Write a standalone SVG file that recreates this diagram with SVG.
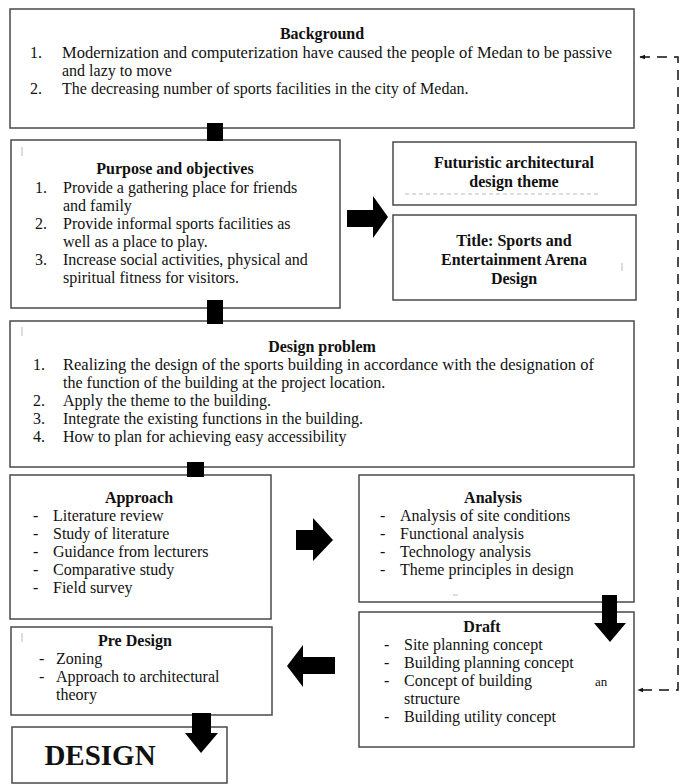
<svg xmlns="http://www.w3.org/2000/svg" width="700" height="784" viewBox="0 0 700 784">
<style>
.box{fill:#fff;stroke:#4a4a4a;stroke-width:1.5}
.t{font-family:"Liberation Serif","Times New Roman",serif;font-size:16px;fill:#111}
.b{font-weight:bold;text-anchor:middle}
.arr{fill:#000}
.dash{fill:none;stroke:#111;stroke-width:1.5;stroke-dasharray:10 7}
.faint{stroke:#bbb;stroke-width:1;fill:none}
</style>
<defs>
<marker id="ah" viewBox="0 0 10 10" refX="9" refY="5" markerWidth="6" markerHeight="6" orient="auto-start-reverse" markerUnits="userSpaceOnUse">
<path d="M0,1 L10,5 L0,9 Z" fill="#111"/>
</marker>
</defs>
<rect width="700" height="784" fill="#fff"/>

<g id="background">
<rect class="box" x="10" y="9" width="624" height="119"/>
<text class="t b" x="322" y="39">Background</text>
<text class="t" x="30" y="58">1.</text>
<text class="t" x="62" y="58" textLength="550" lengthAdjust="spacingAndGlyphs">Modernization and computerization have caused the people of Medan to be passive</text>
<text class="t" x="62" y="76">and lazy to move</text>
<text class="t" x="30" y="94">2.</text>
<text class="t" x="62" y="94">The decreasing number of sports facilities in the city of Medan.</text>
</g>

<g id="purpose">
<rect class="box" x="11" y="140" width="329" height="168"/>
<line class="faint" x1="22" y1="147" x2="22" y2="156"/>
<text class="t b" x="175" y="174">Purpose and objectives</text>
<text class="t" x="35" y="193">1.</text>
<text class="t" x="63" y="193">Provide a gathering place for friends</text>
<text class="t" x="63" y="211">and family</text>
<text class="t" x="35" y="229">2.</text>
<text class="t" x="63" y="229">Provide informal sports facilities as</text>
<text class="t" x="63" y="247">well as a place to play.</text>
<text class="t" x="35" y="265">3.</text>
<text class="t" x="63" y="265">Increase social activities, physical and</text>
<text class="t" x="63" y="283">spiritual fitness for visitors.</text>
</g>

<g id="theme">
<rect class="box" x="393" y="142" width="243" height="63"/>
<line class="faint" x1="405" y1="194" x2="600" y2="194" stroke-dasharray="4 3"/>
<text class="t b" x="514" y="168">Futuristic architectural</text>
<text class="t b" x="514" y="187">design theme</text>
</g>

<g id="title">
<rect class="box" x="393" y="215" width="243" height="85"/>
<line class="faint" x1="622" y1="263" x2="622" y2="271"/>
<text class="t b" x="514" y="246">Title: Sports and</text>
<text class="t b" x="514" y="265">Entertainment Arena</text>
<text class="t b" x="514" y="284">Design</text>
</g>

<g id="design-problem">
<rect class="box" x="10" y="321" width="624" height="146"/>
<line class="faint" x1="22" y1="327" x2="22" y2="336"/>
<text class="t b" x="322" y="352">Design problem</text>
<text class="t" x="33" y="370">1.</text>
<text class="t" x="63" y="370" textLength="531" lengthAdjust="spacingAndGlyphs">Realizing the design of the sports building in accordance with the designation of</text>
<text class="t" x="63" y="388">the function of the building at the project location.</text>
<text class="t" x="33" y="406">2.</text>
<text class="t" x="63" y="406">Apply the theme to the building.</text>
<text class="t" x="33" y="424">3.</text>
<text class="t" x="63" y="424">Integrate the existing functions in the building.</text>
<text class="t" x="33" y="442">4.</text>
<text class="t" x="63" y="442">How to plan for achieving easy accessibility</text>
</g>

<g id="approach">
<rect class="box" x="10" y="475" width="261" height="144"/>
<text class="t b" x="139" y="503">Approach</text>
<text class="t" x="33" y="521">-</text><text class="t" x="53" y="521">Literature review</text>
<text class="t" x="33" y="539">-</text><text class="t" x="53" y="539">Study of literature</text>
<text class="t" x="33" y="557">-</text><text class="t" x="53" y="557">Guidance from lecturers</text>
<text class="t" x="33" y="575">-</text><text class="t" x="53" y="575">Comparative study</text>
<text class="t" x="33" y="593">-</text><text class="t" x="53" y="593">Field survey</text>
</g>

<g id="analysis">
<rect class="box" x="359" y="475" width="275" height="127"/>
<text class="t b" x="493" y="503">Analysis</text>
<text class="t" x="380" y="521">-</text><text class="t" x="400" y="521">Analysis of site conditions</text>
<text class="t" x="380" y="539">-</text><text class="t" x="400" y="539">Functional analysis</text>
<text class="t" x="380" y="557">-</text><text class="t" x="400" y="557">Technology analysis</text>
<text class="t" x="380" y="575">-</text><text class="t" x="400" y="575">Theme principles in design</text>
<line class="faint" x1="453" y1="595" x2="458" y2="595"/>
</g>

<g id="draft">
<rect class="box" x="359" y="612" width="275" height="135"/>
<text class="t b" x="482" y="632">Draft</text>
<text class="t" x="384" y="650">-</text><text class="t" x="404" y="650">Site planning concept</text>
<text class="t" x="384" y="668">-</text><text class="t" x="404" y="668">Building planning concept</text>
<text class="t" x="384" y="686">-</text><text class="t" x="404" y="686">Concept of building</text>
<text class="t" x="404" y="704">structure</text>
<text class="t" x="384" y="722">-</text><text class="t" x="404" y="722">Building utility concept</text>
<text class="t" x="595" y="686" style="font-size:13px">an</text>
</g>

<g id="pre-design">
<rect class="box" x="11" y="627" width="261" height="88"/>
<line class="faint" x1="22" y1="633" x2="22" y2="642"/>
<text class="t b" x="135" y="646">Pre Design</text>
<text class="t" x="39" y="664">-</text><text class="t" x="56" y="664">Zoning</text>
<text class="t" x="39" y="682">-</text><text class="t" x="56" y="682">Approach to architectural</text>
<text class="t" x="56" y="700">theory</text>
</g>

<g id="design">
<rect class="box" x="12" y="727" width="215" height="56"/>
<text class="t b" x="100" y="765" style="font-size:29px">DESIGN</text>
</g>

<g id="connectors">
<rect class="arr" x="207" y="123" width="16" height="18"/>
<rect class="arr" x="207" y="300" width="16" height="24"/>
<rect class="arr" x="187" y="462" width="17" height="15"/>
<polygon class="arr" points="347,210 373,210 373,196 388,217 373,238 373,227 347,227"/>
<polygon class="arr" points="296,530 313,530 313,518 333,540 313,561 313,550 296,550"/>
<polygon class="arr" points="602,595 617,595 617,623 626,623 610,642 594,623 602,623"/>
<polygon class="arr" points="335,657 303,657 303,645 287,666 303,687 303,674 335,674"/>
<polygon class="arr" points="192,713 211,713 211,733 218,733 201,753 185,733 192,733"/>
<path class="dash" d="M640,57 H678 V690 H638" marker-start="url(#ah)" marker-end="url(#ah)"/>
</g>
</svg>
